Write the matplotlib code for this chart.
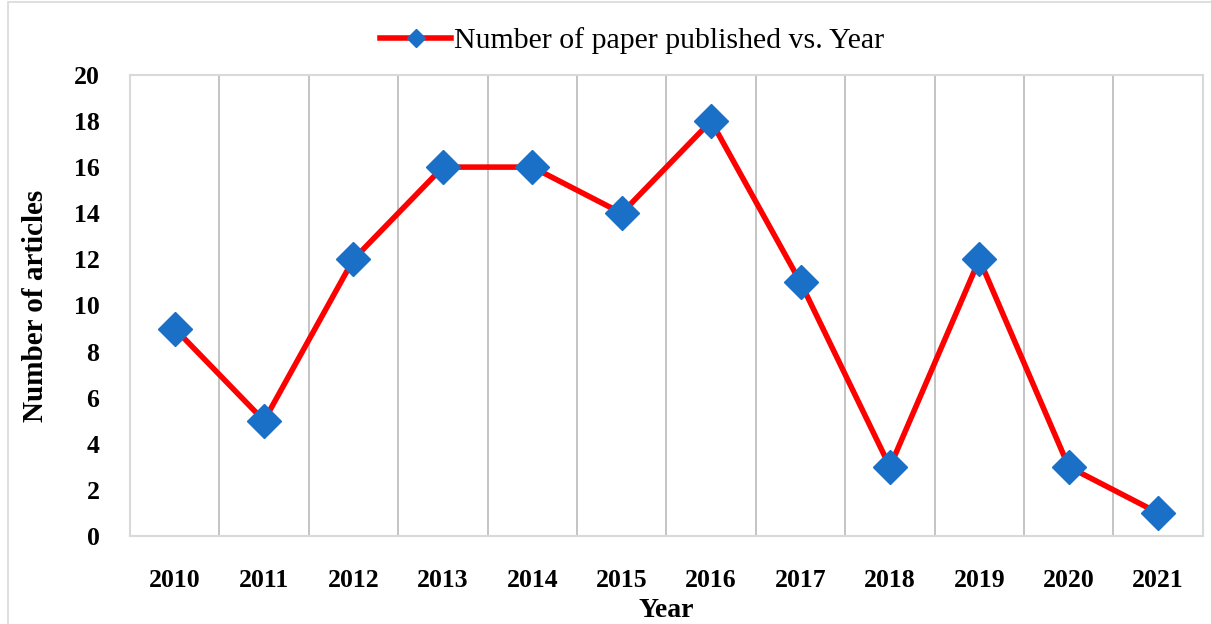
import matplotlib.pyplot as plt
import matplotlib.patches as mpatches

years = ['2010', '2011', '2012', '2013', '2014', '2015',
         '2016', '2017', '2018', '2019', '2020', '2021']
articles = [9, 5, 12, 16, 16, 14, 18, 11, 3, 12, 3, 1]

plt.rcParams['font.family'] = ['Liberation Serif', 'DejaVu Serif']

fig = plt.figure(figsize=(12.11, 6.24), dpi=100)
ax = fig.add_axes([0.1073, 0.141, 0.886, 0.739])

# outer chart border like the Excel chart area
fig.patches.append(mpatches.Rectangle((8 / 1211, -0.01), 1.2, 1.0 - 2 / 624 + 0.01,
                                      transform=fig.transFigure, fill=False,
                                      edgecolor='#D9D9D9', linewidth=1.2))

x = list(range(len(years)))
ax.plot(x, articles, color='#FF0000', linewidth=4, marker='D', markersize=17.5,
        markerfacecolor='#1A6FC6', markeredgecolor='#1A6FC6',
        label='Number of paper published vs. Year', zorder=3)

ax.set_xlim(-0.5, len(years) - 0.5)
ax.set_ylim(0, 20)
ax.set_yticks(range(0, 21, 2))
ax.set_xticks(x)
ax.set_xticklabels(years)
ax.tick_params(length=0, labelsize=18.5)
ax.tick_params(axis='x', pad=24)
ax.tick_params(axis='y', pad=22)
for lab in ax.get_xticklabels() + ax.get_yticklabels():
    lab.set_fontweight('bold')

# vertical grid lines between categories
for b in range(len(years) - 1):
    ax.axvline(b + 0.5, color='#BFBFBF', linewidth=1.3, zorder=1)

for s in ax.spines.values():
    s.set_color('#D9D9D9')
    s.set_linewidth(1.5)

ax.set_xlabel('Year', fontsize=20, fontweight='bold', labelpad=4)
ax.set_ylabel('Number of articles', fontsize=21, fontweight='bold', labelpad=18)

ax.legend(loc='lower center', bbox_to_anchor=(0.468, 1.0), frameon=False,
          fontsize=21.5, handlelength=2.4, handletextpad=0.1, borderpad=0.2,
          markerscale=0.55)

fig.savefig('out.png', dpi=100)
